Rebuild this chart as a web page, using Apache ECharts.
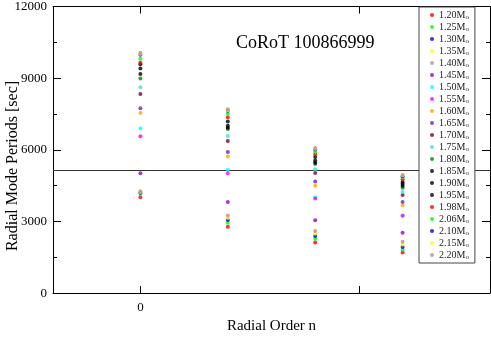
<!DOCTYPE html>
<html>
<head>
<meta charset="utf-8">
<script src="https://cdn.jsdelivr.net/npm/echarts@6/dist/echarts.min.js"></script>
<style>
html, body { margin: 0; padding: 0; background: #fff; }
#main { width: 491px; height: 339px; }
</style>
</head>
<body>
<div id="main"></div>
<script>
// radial orders (plotted positions on the x axis)
var orders = [0, 4, 8, 12];
var masses = ['1.20', '1.25', '1.30', '1.35', '1.40', '1.45', '1.50', '1.55', '1.60', '1.65', '1.70',
              '1.75', '1.80', '1.85', '1.90', '1.95', '1.98', '2.06', '2.10', '2.15', '2.20'];
// periods [sec] per mass, one value per radial order
var periods = [
    [4015, 2775, 2120, 1695],
    [4165, 2950, 2275, 1815],
    [4200, 3065, 2395, 1935],
    [4230, 3160, 2500, 2040],
    [4265, 3250, 2605, 2145],
    [5015, 3815, 3050, 2525],
    [6895, 5160, 4000, 3250],
    [6565, 5015, 3960, 3235],
    [7540, 5720, 4500, 3670],
    [7740, 5905, 4670, 3815],
    [8340, 6370, 5025, 4105],
    [8615, 6575, 5185, 4235],
    [8985, 6870, 5405, 4410],
    [9170, 6920, 5460, 4500],
    [9405, 7010, 5550, 4580],
    [9580, 7185, 5695, 4655],
    [9645, 7365, 5815, 4765],
    [9815, 7510, 5920, 4855],
    [9975, 7630, 6010, 4895],
    [10020, 7660, 6045, 4920],
    [10065, 7695, 6080, 4950]
];
var colors = ['#ff0000', '#00ff00', '#0000ff', '#ffff00', '#bc8f8f', '#9400d3', '#00ffff', '#ff00ff',
              '#ffa500', '#7221bc', '#670748', '#40e0d0', '#008b00', '#000000', '#000000', '#000000',
              '#ff0000', '#00ff00', '#0000ff', '#ffff00', '#bc8f8f'];
var observed = 5130;   // horizontal reference line

var font = 'Liberation Serif, Times New Roman, serif';
var chart = echarts.init(document.getElementById('main'));

var series = masses.map(function(m, i){
    var s = {
        name: m
        ,type: 'scatter'
        ,symbol: 'circle'
        ,symbolSize: 4
        ,itemStyle: { color: colors[i] }
        ,data: orders.map(function(n, k){ return [n, periods[i][k]]; })
        ,z: 3
    };
    if (i === 0) {
        s.markLine = {
            silent: true
            ,symbol: 'none'
            ,label: { show: false }
            ,lineStyle: { color: '#333', width: 1, type: 'solid' }
            ,data: [{ yAxis: observed }]
            ,z: 1
        };
    }
    return s;
});

chart.setOption({
    animation: false
    ,backgroundColor: '#fff'
    ,title: {
        text: 'CoRoT 100866999'
        ,left: 236
        ,top: 34
        ,padding: 0
        ,textStyle: { fontFamily: font, fontSize: 18, fontWeight: 'normal', color: '#000' }
    }
    ,grid: { left: 53, right: 1, top: 6, bottom: 29 }
    ,legend: {
        orient: 'vertical'
        ,left: 419
        ,top: 7
        ,padding: [2, 6, 2, 11]
        ,itemWidth: 4
        ,itemHeight: 4
        ,itemGap: 0
        ,itemTextGap: 12
        ,icon: 'circle'
        ,backgroundColor: '#fff'
        ,borderColor: '#444'
        ,borderWidth: 1
        ,formatter: function(name){ return '{m|' + name + 'M}{s|o}'; }
        ,textStyle: {
            fontFamily: font
            ,color: '#222'
            ,rich: {
                m: { fontFamily: font, fontSize: 10, lineHeight: 14, color: '#222' }
                ,s: { fontFamily: font, fontSize: 7, lineHeight: 14, color: '#222', padding: [5, 0, 0, 0] }
            }
        }
        ,data: masses
    }
    ,graphic: [{
        type: 'text'
        ,x: 13
        ,y: 166
        ,rotation: Math.PI / 2
        ,style: {
            text: 'Radial Mode Periods [sec]'
            ,fontFamily: font
            ,fontSize: 16
            ,fill: '#000'
            ,align: 'center'
            ,verticalAlign: 'middle'
        }
    }]
    ,xAxis: [{
        type: 'value'
        ,min: -4
        ,max: 16
        ,name: 'Radial Order n'
        ,nameLocation: 'middle'
        ,nameGap: 14
        ,nameTextStyle: { fontFamily: font, fontSize: 15, color: '#000' }
        ,axisLine: { onZero: false, lineStyle: { color: '#000', width: 1 } }
        ,axisTick: { inside: true, length: 7, customValues: [0, 10], lineStyle: { color: '#000' } }
        ,axisLabel: { customValues: [0], fontFamily: font, fontSize: 13, color: '#000', margin: 8 }
        ,splitLine: { show: false }
    }, {
        type: 'value'
        ,position: 'top'
        ,min: -4
        ,max: 16
        ,axisLine: { onZero: false, lineStyle: { color: '#000', width: 1 } }
        ,axisTick: { inside: true, length: 7, customValues: [0, 10], lineStyle: { color: '#000' } }
        ,axisLabel: { show: false }
        ,splitLine: { show: false }
    }]
    ,yAxis: [{
        type: 'value'
        ,min: 0
        ,max: 12000
        ,interval: 3000
        ,axisLine: { show: true, onZero: false, lineStyle: { color: '#000', width: 1 } }
        ,axisTick: { show: true, inside: true, length: 8, lineStyle: { color: '#000' } }
        ,minorTick: { show: true, splitNumber: 2, length: 4, lineStyle: { color: '#000' } }
        ,axisLabel: {
            fontFamily: font, fontSize: 13, color: '#000', margin: 6
            ,formatter: function(v){ return String(v); }
        }
        ,splitLine: { show: false }
    }, {
        type: 'value'
        ,position: 'right'
        ,min: 0
        ,max: 12000
        ,interval: 3000
        ,axisLine: { show: true, onZero: false, lineStyle: { color: '#000', width: 1 } }
        ,axisTick: { show: true, inside: true, length: 8, lineStyle: { color: '#000' } }
        ,minorTick: { show: true, splitNumber: 2, length: 4, lineStyle: { color: '#000' } }
        ,axisLabel: { show: false }
        ,splitLine: { show: false }
    }]
    ,series: series
});
</script>
</body>
</html>
